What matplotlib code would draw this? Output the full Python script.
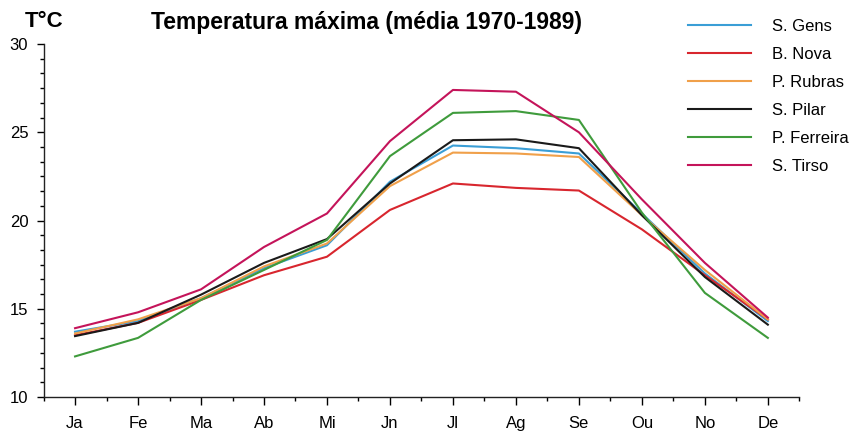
import matplotlib
matplotlib.use("Agg")
import matplotlib.pyplot as plt
from matplotlib.ticker import MultipleLocator, AutoMinorLocator

# monthly mean maximum temperature (deg C), 1970-1989
months = ["Ja", "Fe", "Ma", "Ab", "Mi", "Jn", "Jl", "Ag", "Se", "Ou", "No", "De"]

s_gens = [13.7, 14.3, 15.6, 17.3, 18.6, 22.2, 24.25, 24.1, 23.8, 20.4, 17.0, 14.3]
b_nova = [13.5, 14.2, 15.5, 16.9, 17.95, 20.6, 22.1, 21.85, 21.7, 19.5, 16.9, 14.4]
p_rubras = [13.6, 14.4, 15.6, 17.4, 18.7, 21.95, 23.85, 23.8, 23.6, 20.3, 17.2, 14.4]
s_pilar = [13.45, 14.2, 15.8, 17.6, 18.95, 22.1, 24.55, 24.6, 24.1, 20.3, 16.8, 14.1]
p_ferreira = [12.3, 13.35, 15.5, 17.2, 18.9, 23.65, 26.1, 26.2, 25.7, 20.45, 15.9, 13.35]
s_tirso = [13.9, 14.8, 16.1, 18.5, 20.4, 24.5, 27.4, 27.3, 25.0, 21.2, 17.6, 14.5]

series = [
    ("S. Gens", s_gens, "#3a9ed6"),
    ("B. Nova", b_nova, "#d8262e"),
    ("P. Rubras", p_rubras, "#f0a04a"),
    ("S. Pilar", s_pilar, "#1a1a1a"),
    ("P. Ferreira", p_ferreira, "#3f9b3c"),
    ("S. Tirso", s_tirso, "#c4145a"),
]

plt.rcParams['font.family'] = ['Liberation Sans Narrow', 'Liberation Sans', 'DejaVu Sans']

fig = plt.figure(figsize=(8.54, 4.32), dpi=100)
ax = fig.add_axes([0.051, 0.081, 0.885, 0.817])

x = list(range(len(months)))
for name, vals, col in series:
    ax.plot(x, vals, color=col, lw=1.5, label=name)

ax.set_xlim(-0.5, 11.5)
ax.set_ylim(10, 30)
ax.set_xticks(x)
ax.set_xticklabels(months, fontsize=12)
ax.xaxis.set_minor_locator(MultipleLocator(0.5))
ax.yaxis.set_major_locator(MultipleLocator(5))
ax.yaxis.set_minor_locator(AutoMinorLocator(6))
ax.tick_params(axis='x', which='major', length=6, width=1, pad=8)
ax.tick_params(axis='x', which='minor', length=3, width=1)
ax.tick_params(axis='y', which='major', length=5, width=1, pad=6, labelsize=12)
ax.tick_params(axis='y', which='minor', length=3, width=1)

for s in ['top', 'right']:
    ax.spines[s].set_visible(False)
for s in ['left', 'bottom']:
    ax.spines[s].set_linewidth(1)
    ax.spines[s].set_color('#222222')

fig.text(0.052, 0.95, "T°C", fontsize=16, fontweight='bold', ha='center', va='center',
         family=['Liberation Sans', 'DejaVu Sans'])
fig.text(0.429, 0.947, "Temperatura máxima (média 1970-1989)", fontsize=16.5,
         fontweight='bold', ha='center', va='center', family=['Liberation Sans', 'DejaVu Sans'])

leg = ax.legend(loc='upper left', bbox_to_anchor=(0.844, 1.089), frameon=False,
                fontsize=12, handlelength=3.8, handletextpad=1.25, labelspacing=0.78,
                borderaxespad=0)

fig.savefig("out.png", dpi=100)
